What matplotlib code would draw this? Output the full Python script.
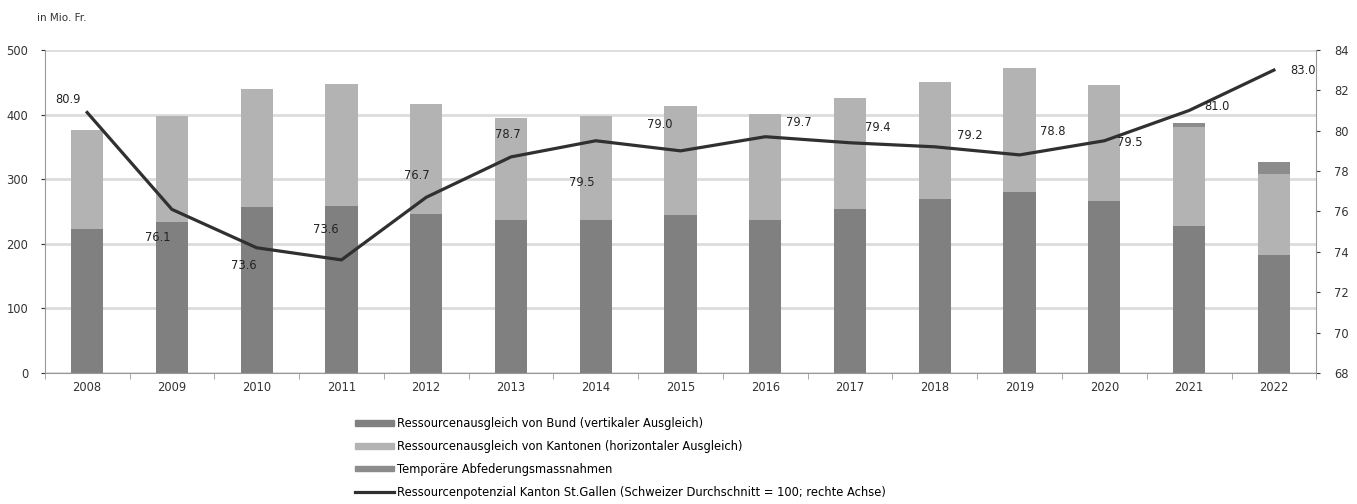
import numpy as np
import matplotlib.pyplot as plt
from matplotlib.patches import Patch
from matplotlib.lines import Line2D
from matplotlib.ticker import FixedLocator

plt.rcParams['font.family'] = ['DejaVu Sans']

# Daten (in Mio. Fr.)
jahre = ["2008", "2009", "2010", "2011", "2012", "2013", "2014", "2015",
         "2016", "2017", "2018", "2019", "2020", "2021", "2022"]
bund = [223, 234, 257, 258, 246, 237, 237, 245, 237, 254, 269, 280, 266, 228, 183]
kantone = [153, 164, 183, 189, 170, 158, 161, 168, 164, 172, 182, 192, 180, 153, 125]
temporaer = [0, 0, 0, 0, 0, 0, 0, 0, 0, 0, 0, 0, 0, 6, 18]
potenzial = [80.9, 76.1, 74.2, 73.6, 76.7, 78.7, 79.5, 79.0, 79.7, 79.4, 79.2, 78.8, 79.5, 81.0, 83.0]
label_text = ["80.9", "76.1", "73.6", "73.6", "76.7", "78.7", "79.5", "79.0",
              "79.7", "79.4", "79.2", "78.8", "79.5", "81.0", "83.0"]
# Versatz der Beschriftungen in Punkten
label_dx = [-14, -10, -9, -11, -7, -2, -10, -15, 24, 20, 25, 24, 18, 20, 21]
label_dy = [9, -20, -13, 22, 16, 16, -30, 19, 10, 11, 8, 17, -1, 3, 0]

c_bund = "#808080"
c_kant = "#b3b3b3"
c_temp = "#8c8c8c"
c_line = "#303030"
fs = 8.3

fig = plt.figure(figsize=(13.57, 5.04), dpi=100)
ax = fig.add_axes([0.033, 0.26, 0.937, 0.641])
x = np.arange(len(jahre))
w = 0.38

ax.bar(x, bund, w, color=c_bund, zorder=2)
ax.bar(x, kantone, w, bottom=bund, color=c_kant, zorder=2)
ax.bar(x, temporaer, w, bottom=np.array(bund) + np.array(kantone), color=c_temp, zorder=2)

ax.set_xlim(-0.5, len(jahre) - 0.5)
ax.set_ylim(0, 500)
ax.set_yticks(range(0, 501, 100))
ax.yaxis.grid(True, color="#dcdcdc", linewidth=2)
ax.set_axisbelow(True)
ax.set_xticks(x)
ax.set_xticklabels(jahre)
ax.tick_params(axis="x", length=0, labelsize=fs, colors="#333333", pad=6)
ax.xaxis.set_minor_locator(FixedLocator(np.arange(-0.5, len(jahre), 1)))
ax.tick_params(axis="x", which="minor", length=4, color="#999999")
ax.tick_params(axis="y", length=3, labelsize=fs, colors="#333333", pad=9)
for s in ["top", "right"]:
    ax.spines[s].set_visible(False)
ax.spines["left"].set_color("#999999")
ax.spines["bottom"].set_color("#999999")

ax2 = ax.twinx()
ax2.plot(x, potenzial, color=c_line, linewidth=2.3, zorder=3)
ax2.set_ylim(68, 84)
ax2.set_yticks(range(68, 85, 2))
ax2.tick_params(axis="y", length=3, labelsize=fs, colors="#333333", pad=10)
for s in ["top", "left", "bottom"]:
    ax2.spines[s].set_visible(False)
ax2.spines["right"].set_color("#999999")

for i in range(len(jahre)):
    ax2.annotate(label_text[i], (x[i], potenzial[i]), xytext=(label_dx[i], label_dy[i]),
                 textcoords="offset points", ha="center", va="center",
                 fontsize=fs, color="#222222")

fig.text(0.027, 0.965, "in Mio. Fr.", fontsize=7.5, color="#333333", va="center")

handles = [
    Patch(color=c_bund, label="Ressourcenausgleich von Bund (vertikaler Ausgleich)"),
    Patch(color=c_kant, label="Ressourcenausgleich von Kantonen (horizontaler Ausgleich)"),
    Patch(color=c_temp, label="Temporäre Abfederungsmassnahmen"),
    Line2D([0], [0], color=c_line, linewidth=2.3,
           label="Ressourcenpotenzial Kanton St.Gallen (Schweizer Durchschnitt = 100; rechte Achse)"),
]
fig.legend(handles=handles, loc="upper left", bbox_to_anchor=(0.2616, 0.172),
           frameon=False, fontsize=fs, handlelength=3.4, handleheight=0.35,
           handletextpad=0.25, labelspacing=0.85, borderaxespad=0, borderpad=0)

fig.savefig("out.png", dpi=100)
